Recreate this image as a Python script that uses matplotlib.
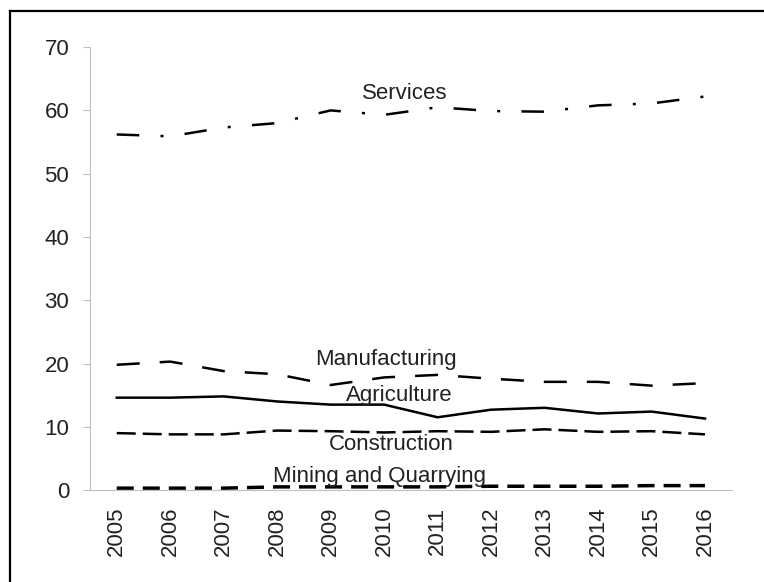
import matplotlib.pyplot as plt
from matplotlib.lines import Line2D

plt.rcParams['font.family'] = ['Liberation Sans', 'DejaVu Sans']

years = ['2005', '2006', '2007', '2008', '2009', '2010',
         '2011', '2012', '2013', '2014', '2015', '2016']

services = [56.2, 55.9, 57.3, 58.0, 60.0, 59.3, 60.5, 59.9, 59.8, 60.8, 61.1, 62.2]
manufacturing = [19.8, 20.3, 18.8, 18.3, 16.6, 17.8, 18.2, 17.6, 17.1, 17.1, 16.5, 16.9]
agriculture = [14.6, 14.6, 14.8, 14.0, 13.5, 13.5, 11.5, 12.7, 13.0, 12.1, 12.4, 11.3]
construction = [9.0, 8.8, 8.8, 9.4, 9.3, 9.1, 9.3, 9.2, 9.6, 9.2, 9.3, 8.8]
mining = [0.3, 0.3, 0.3, 0.5, 0.5, 0.5, 0.5, 0.6, 0.6, 0.6, 0.7, 0.7]

fig = plt.figure(figsize=(7.64, 5.82), dpi=100)
ax = fig.add_axes([0.1178, 0.158, 0.840, 0.761])

x = list(range(len(years)))
ax.plot(x, services, color='black', lw=1.8, ls=(0, (9, 8.5, 1.2, 8.5)))
ax.plot(x, manufacturing, color='black', lw=1.8, ls=(0, (9.2, 8)))
ax.plot(x, agriculture, color='black', lw=1.8, ls='-')
ax.plot(x, construction, color='black', lw=1.8, ls=(0, (7.6, 2.8)))
ax.plot(x, mining, color='black', lw=2.5, ls=(0, (4.9, 2.6)))

# line labels
lab = dict(fontsize=16, ha='center', va='baseline', color='#222222')
ax.text(5.38, 61.8, 'Services', **lab)
ax.text(5.03, 19.75, 'Manufacturing', **lab)
ax.text(5.29, 14.06, 'Agriculture', **lab)
ax.text(5.14, 6.32, 'Construction', **lab)
ax.text(4.91, 1.26, 'Mining and Quarrying', **lab)

ax.set_xlim(-0.5, len(years) - 0.5)
ax.set_ylim(0, 70)
ax.set_yticks(range(0, 71, 10))
ax.set_xticks(x)
ax.set_xticklabels(years, rotation=90)
ax.tick_params(axis='y', labelsize=16, length=5, color='#bfbfbf', pad=10, labelcolor='#222222')
ax.tick_params(axis='x', labelsize=16, length=0, pad=12, labelcolor='#222222')

for s in ['top', 'right']:
    ax.spines[s].set_visible(False)
ax.spines['left'].set_color('#bfbfbf')
ax.spines['bottom'].set_color('#bfbfbf')

# outer frame (top and left edges visible)
fig.add_artist(Line2D([9.5 / 764, 1.0], [1 - 10.5 / 582, 1 - 10.5 / 582],
                      transform=fig.transFigure, color='black', lw=1.6))
fig.add_artist(Line2D([9.5 / 764, 9.5 / 764], [0.0, 1 - 10.5 / 582],
                      transform=fig.transFigure, color='black', lw=1.6))

fig.savefig('out.png', dpi=100)
